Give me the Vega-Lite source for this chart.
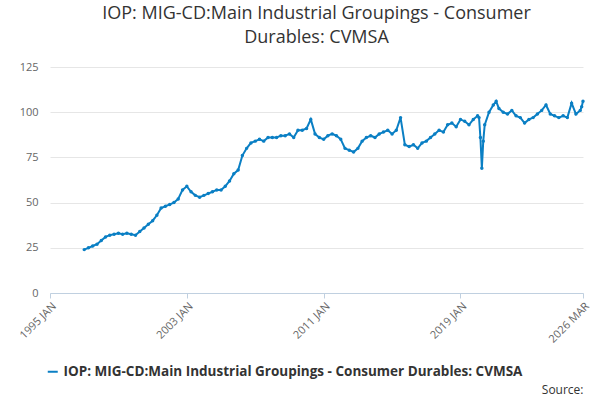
{
"$schema":"https://vega.github.io/schema/vega-lite/v6.json",
"width":533,"height":226,
"autosize":"none",
"padding":{"left":50,"top":67,"right":17,"bottom":107},
"title":{"text":["IOP: MIG-CD:Main Industrial Groupings - Consumer","Durables: CVMSA"],"font":"Open Sans","fontSize":18,"fontWeight":"normal","color":"#333","anchor":"middle","offset":14,"lineHeight":24},
"data":{"values":[
{"d":"1997-01-01","v":24},{"d":"1997-04-01","v":25},{"d":"1997-07-01","v":26},{"d":"1997-10-01","v":27},
{"d":"1998-01-01","v":29},{"d":"1998-04-01","v":31},{"d":"1998-07-01","v":32},{"d":"1998-10-01","v":32.5},
{"d":"1999-01-01","v":33},{"d":"1999-04-01","v":32.5},{"d":"1999-07-01","v":33},{"d":"1999-10-01","v":32.5},
{"d":"2000-01-01","v":32},{"d":"2000-04-01","v":34},{"d":"2000-07-01","v":36},{"d":"2000-10-01","v":38},
{"d":"2001-01-01","v":40},{"d":"2001-04-01","v":43},{"d":"2001-07-01","v":47},{"d":"2001-10-01","v":48},
{"d":"2002-01-01","v":49},{"d":"2002-04-01","v":50},{"d":"2002-07-01","v":52},{"d":"2002-10-01","v":57},
{"d":"2003-01-01","v":59},{"d":"2003-04-01","v":56},{"d":"2003-07-01","v":54},{"d":"2003-10-01","v":53},
{"d":"2004-01-01","v":54},{"d":"2004-04-01","v":55},{"d":"2004-07-01","v":56},{"d":"2004-10-01","v":57},
{"d":"2005-01-01","v":57},{"d":"2005-04-01","v":59},{"d":"2005-07-01","v":62},{"d":"2005-10-01","v":66},
{"d":"2006-01-01","v":68},{"d":"2006-04-01","v":76},{"d":"2006-07-01","v":80},{"d":"2006-10-01","v":83},
{"d":"2007-01-01","v":84},{"d":"2007-04-01","v":85},{"d":"2007-07-01","v":84},{"d":"2007-10-01","v":86},
{"d":"2008-01-01","v":86},{"d":"2008-04-01","v":86},{"d":"2008-07-01","v":87},{"d":"2008-10-01","v":87},
{"d":"2009-01-01","v":88},{"d":"2009-04-01","v":86},{"d":"2009-07-01","v":90},{"d":"2009-10-01","v":90},
{"d":"2010-01-01","v":91},{"d":"2010-04-01","v":96},{"d":"2010-07-01","v":88},{"d":"2010-10-01","v":86},
{"d":"2011-01-01","v":85},{"d":"2011-04-01","v":87},{"d":"2011-07-01","v":88},{"d":"2011-10-01","v":87},
{"d":"2012-01-01","v":85},{"d":"2012-04-01","v":80},{"d":"2012-07-01","v":79},{"d":"2012-10-01","v":78},
{"d":"2013-01-01","v":80},{"d":"2013-04-01","v":84},{"d":"2013-07-01","v":86},{"d":"2013-10-01","v":87},
{"d":"2014-01-01","v":86},{"d":"2014-04-01","v":88},{"d":"2014-07-01","v":89},{"d":"2014-10-01","v":90},
{"d":"2015-01-01","v":88},{"d":"2015-04-01","v":90},{"d":"2015-07-01","v":97},{"d":"2015-10-01","v":82},
{"d":"2016-01-01","v":81},{"d":"2016-04-01","v":82},{"d":"2016-07-01","v":80},{"d":"2016-10-01","v":83},
{"d":"2017-01-01","v":84},{"d":"2017-04-01","v":86},{"d":"2017-07-01","v":88},{"d":"2017-10-01","v":90},
{"d":"2018-01-01","v":89},{"d":"2018-04-01","v":93},{"d":"2018-07-01","v":94},{"d":"2018-10-01","v":92},
{"d":"2019-01-01","v":96},{"d":"2019-04-01","v":95},{"d":"2019-07-01","v":93},{"d":"2019-10-01","v":96},
{"d":"2020-01-01","v":98},{"d":"2020-02-01","v":97},{"d":"2020-03-01","v":86},{"d":"2020-04-01","v":69},{"d":"2020-05-01","v":84},{"d":"2020-06-01","v":93},{"d":"2020-09-01","v":100},{"d":"2020-12-01","v":104},
{"d":"2021-02-01","v":106},{"d":"2021-04-01","v":102},{"d":"2021-07-01","v":100},{"d":"2021-10-01","v":99},
{"d":"2022-01-01","v":101},{"d":"2022-04-01","v":98},{"d":"2022-07-01","v":97},{"d":"2022-10-01","v":94},
{"d":"2023-01-01","v":96},{"d":"2023-04-01","v":97},{"d":"2023-07-01","v":99},{"d":"2023-10-01","v":101},
{"d":"2024-01-01","v":104},{"d":"2024-04-01","v":99},{"d":"2024-07-01","v":98},{"d":"2024-10-01","v":97},
{"d":"2025-01-01","v":98},{"d":"2025-04-01","v":97},{"d":"2025-07-01","v":105},{"d":"2025-10-01","v":99},
{"d":"2026-01-01","v":101},{"d":"2026-02-01","v":103},{"d":"2026-03-01","v":106}
]},
"transform":[{"calculate":"'IOP: MIG-CD:Main Industrial Groupings - Consumer Durables: CVMSA'","as":"s"}],
"mark":{"type":"line","strokeWidth":2,"point":{"size":12,"filled":true}},
"encoding":{
"x":{"field":"d","type":"temporal","scale":{"domain":["1995-01-01","2026-03-01"]},
"axis":{"values":["1995-01-01","2003-01-01","2011-01-01","2019-01-01","2026-03-01"],"labelExpr":"upper(timeFormat(datum.value,'%Y %b'))","labelAngle":-45,"grid":false,"domainColor":"#c0d0e0","tickColor":"#c0d0e0","labelColor":"#666","labelFont":"Open Sans","labelFontSize":11,"title":"Source:","titleAnchor":"end","titleFont":"Open Sans","titleFontSize":12,"titleFontWeight":"normal","titleColor":"#333","titlePadding":40}},
"y":{"field":"v","type":"quantitative","scale":{"domain":[0,125]},
"axis":{"values":[0,25,50,75,100,125],"domain":false,"ticks":false,"gridColor":"#e6e6e6","labelColor":"#666","labelFont":"Open Sans","labelFontSize":11,"title":null,"labelPadding":12}},
"color":{"field":"s","type":"nominal","scale":{"range":["#0a7fc4"]},
"legend":{"orient":"none","legendX":-4,"legendY":298,"title":null,"labelFont":"Open Sans","labelFontSize":13.5,"labelFontWeight":"bold","labelColor":"#333","labelLimit":600,"symbolType":"stroke","symbolStrokeWidth":2}}
},
"config":{"view":{"stroke":null}}
}
